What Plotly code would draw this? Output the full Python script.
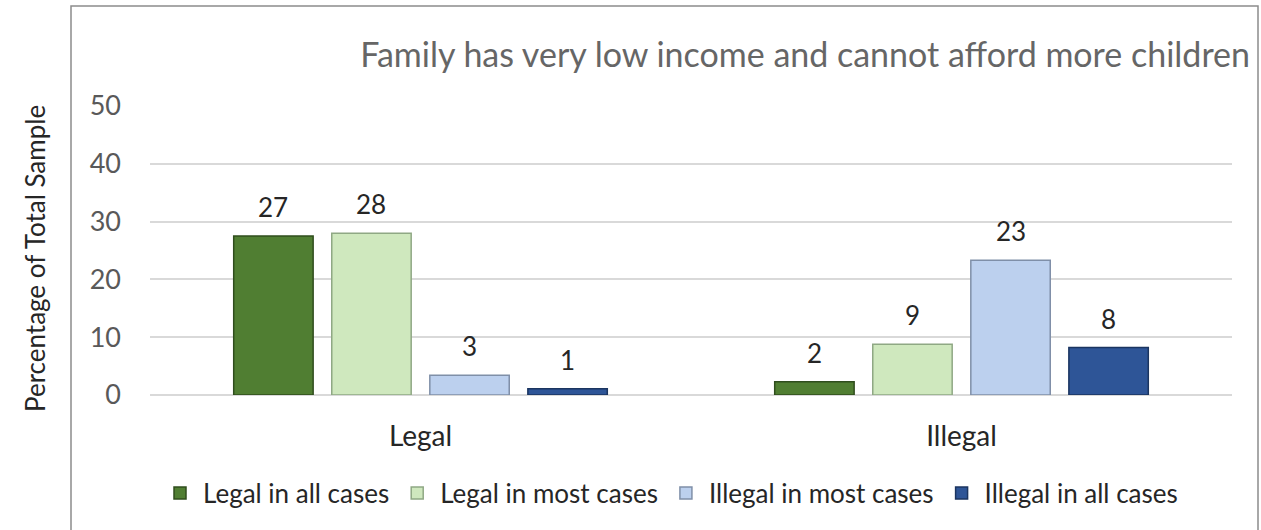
import plotly.graph_objects as go

categories = ["Legal", "Illegal"]
series_names = ["Legal in all cases", "Legal in most cases", "Illegal in most cases", "Illegal in all cases"]
legal_all = [27.5, 2.3]
legal_most = [28.0, 8.8]
illegal_most = [3.4, 23.3]
illegal_all = [1.1, 8.2]
labels_legal_all = ["27", "2"]
labels_legal_most = ["28", "9"]
labels_illegal_most = ["3", "23"]
labels_illegal_all = ["1", "8"]
y_ticks = [0, 10, 20, 30, 40, 50]

colors = ["#507E32", "#CFE8BE", "#BCD0EE", "#2E5597"]
outlines = ["#2F4D1D", "#8FA884", "#7F8FA8", "#1B3560"]

FONT = "Lato"
W, H = 1261, 530
ML, MR, MT, MB = 150, 29, 106, 135
BARGAP, GROUPGAP = 0.275, 0.19

series = [
    (series_names[0], legal_all, labels_legal_all),
    (series_names[1], legal_most, labels_legal_most),
    (series_names[2], illegal_most, labels_illegal_most),
    (series_names[3], illegal_all, labels_illegal_all),
]

fig = go.Figure()
for (name, vals, labs), c, oc in zip(series, colors, outlines):
    fig.add_trace(go.Bar(
        name=name, x=categories, y=vals,
        marker=dict(color=c, line=dict(color=oc, width=1.5)),
    ))

# data labels above bars
pitch = (W - ML - MR) / len(categories) * (1 - BARGAP) / len(series)
for i, (name, vals, labs) in enumerate(series):
    for cat, v, lab in zip(categories, vals, labs):
        fig.add_annotation(x=cat, y=v, text=lab, showarrow=False,
                           xanchor="center", yanchor="bottom",
                           xshift=(i - (len(series) - 1) / 2) * pitch, yshift=11,
                           font=dict(family=FONT, size=26, color="#262626"))

fig.update_layout(
    width=W, height=H,
    margin=dict(l=ML, r=MR, t=MT, b=MB),
    paper_bgcolor="white", plot_bgcolor="white",
    barmode="group", bargap=BARGAP, bargroupgap=GROUPGAP,
    font=dict(family=FONT, color="#262626"),
    title=dict(text="Family has very low income and cannot afford more children",
               xref="container", x=1250/W, xanchor="right",
               yref="container", y=1-55/H, yanchor="middle",
               font=dict(family=FONT, size=34, color="#666666")),
    legend=dict(orientation="h", xref="container", x=670/W, xanchor="center",
                yref="container", y=1-493/H, yanchor="middle",
                font=dict(family=FONT, size=26, color="#262626"),
                itemwidth=36, itemclick=False),
    showlegend=True,
)
fig.update_yaxes(range=[0, 50], tickvals=y_ticks, showgrid=True,
                 gridcolor="#D9D9D9", gridwidth=2, zeroline=True,
                 zerolinecolor="#D9D9D9", zerolinewidth=2,
                 tickfont=dict(family=FONT, size=27, color="#595959"),
                 ticklabelstandoff=28, showline=False)
fig.update_xaxes(showline=False, tickfont=dict(family=FONT, size=28, color="#262626"),
                 ticklabelstandoff=22)

fig.add_annotation(text="Percentage of Total Sample", textangle=-90,
                   xref="paper", yref="paper", x=(35-ML)/(W-ML-MR), y=(395-259)/(H-MT-MB),
                   xanchor="center", yanchor="middle", showarrow=False,
                   font=dict(family=FONT, size=26, color="#262626"))

fig.add_shape(type="rect", xref="paper", yref="paper",
              x0=(71-ML)/(W-ML-MR), x1=(1258-ML)/(W-ML-MR),
              y0=(395-560)/(H-MT-MB), y1=(395-6)/(H-MT-MB),
              line=dict(color="#8C8C8C", width=1.5), fillcolor="rgba(0,0,0,0)",
              layer="below")

fig.write_html("out.html", config={"displayModeBar": False},
               post_script="document.body.style.margin='0';")
